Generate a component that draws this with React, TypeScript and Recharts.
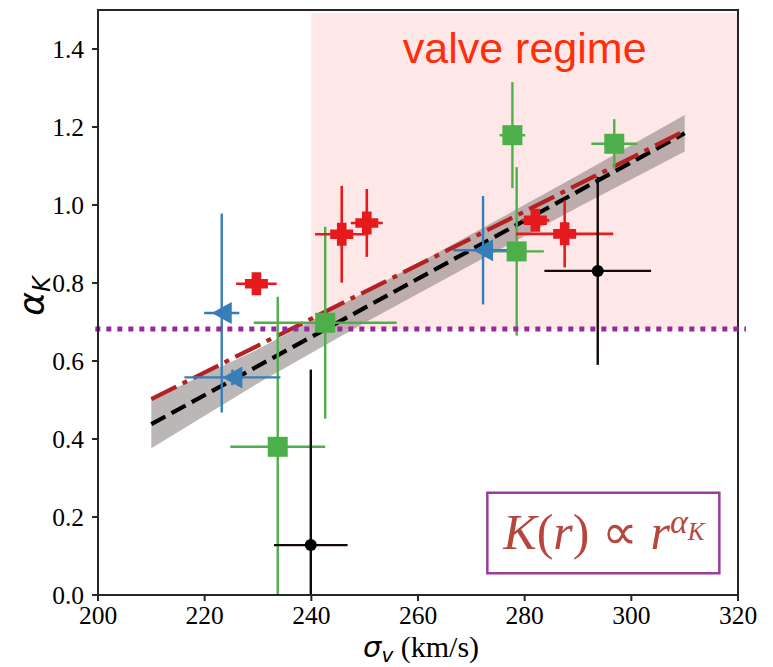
import React from 'react';
import {
  ComposedChart,
  XAxis,
  YAxis,
  Scatter,
  ErrorBar,
  Line,
  Area,
  ReferenceArea,
  ReferenceLine,
} from 'recharts';

// Axis ticks
const sigmaTicks = [200, 220, 240, 260, 280, 300, 320];
const alphaTicks = [0, 0.2, 0.4, 0.6, 0.8, 1.0, 1.2, 1.4];

// Red sample (plus markers)
const redSigma = [229.7, 245.7, 250.4, 282.0, 287.5];
const redAlpha = [0.798, 0.925, 0.954, 0.961, 0.926];
const redSigmaErr = [3.8, 5.0, 3.0, 2.6, 9.1];
const redAlphaErrLow = [0.02, 0.124, 0.087, 0.02, 0.086];
const redAlphaErrHigh = [0.02, 0.124, 0.087, 0.02, 0.086];

// Blue sample (left triangles)
const blueSigma = [223.2, 225.2, 272.2];
const blueAlpha = [0.723, 0.558, 0.884];
const blueSigmaErr = [3.3, 9.0, 5.6];
const blueAlphaErrLow = [0.255, 0.02, 0.139];
const blueAlphaErrHigh = [0.255, 0.02, 0.139];

// Green sample (squares)
const greenSigma = [233.7, 242.6, 277.7, 278.5, 296.8];
const greenAlpha = [0.38, 0.698, 1.179, 0.881, 1.157];
const greenSigmaErr = [8.9, 13.4, 2.4, 5.1, 4.3];
const greenAlphaErrLow = [0.38, 0.246, 0.136, 0.216, 0.063];
const greenAlphaErrHigh = [0.385, 0.246, 0.136, 0.216, 0.063];

// Black sample (circles)
const blackSigma = [239.9, 293.7];
const blackAlpha = [0.128, 0.831];
const blackSigmaErr = [6.9, 10.0];
const blackAlphaErrLow = [0.128, 0.241];
const blackAlphaErrHigh = [0.45, 0.241];

// Linear fits
const fitSigma = [210, 310];
const fitBlack = [0.438, 1.184];
const fitRed = [0.502, 1.19];

// Confidence band around the black fit
const bandSigma = [210, 230, 250, 270, 290, 310];
const bandLow = [0.376, 0.543, 0.698, 0.847, 0.994, 1.137];
const bandHigh = [0.502, 0.63, 0.776, 0.925, 1.076, 1.231];

// Valve regime threshold
const alphaThreshold = 0.682;
const valveSigmaMin = 240;

const makePoints = (
  xs: number[],
  ys: number[],
  exs: number[],
  eyLo: number[],
  eyHi: number[]
) => xs.map((x, i) => ({ x, y: ys[i], ex: exs[i], ey: [eyLo[i], eyHi[i]] }));

const redPts = makePoints(redSigma, redAlpha, redSigmaErr, redAlphaErrLow, redAlphaErrHigh);
const bluePts = makePoints(blueSigma, blueAlpha, blueSigmaErr, blueAlphaErrLow, blueAlphaErrHigh);
const greenPts = makePoints(greenSigma, greenAlpha, greenSigmaErr, greenAlphaErrLow, greenAlphaErrHigh);
const blackPts = makePoints(blackSigma, blackAlpha, blackSigmaErr, blackAlphaErrLow, blackAlphaErrHigh);

const blackFit = fitSigma.map((x, i) => ({ x, y: fitBlack[i] }));
const redFit = fitSigma.map((x, i) => ({ x, y: fitRed[i] }));
const band = bandSigma.map((x, i) => ({ x, range: [bandLow[i], bandHigh[i]] }));

const RED = '#e41a1c';
const BLUE = '#377eb8';
const GREEN = '#4daf4a';
const PURPLE = '#97289b';
const AXIS = '#262626';
const SERIF = 'Liberation Serif';
const SANS = 'DejaVu Sans';

const PlusShape = (p: any) => {
  const { cx, cy } = p;
  const s = 11.5;
  const t = 4.8;
  const a = s - t;
  const d = `M${cx - t},${cy - s}h${2 * t}v${a}h${a}v${2 * t}h${-a}v${a}h${-2 * t}v${-a}h${-a}v${-2 * t}h${a}z`;
  return <path d={d} fill={RED} />;
};

const TriangleShape = (p: any) => {
  const { cx, cy } = p;
  return (
    <polygon
      points={`${cx - 10},${cy} ${cx + 10},${cy - 11} ${cx + 10},${cy + 11}`}
      fill={BLUE}
    />
  );
};

const SquareShape = (p: any) => {
  const { cx, cy } = p;
  return <rect x={cx - 10} y={cy - 10} width={20} height={20} fill={GREEN} />;
};

const CircleShape = (p: any) => {
  const { cx, cy } = p;
  return <circle cx={cx} cy={cy} r={6} fill="#000" />;
};

const ValveLabel = (props: any) => {
  const vb = props.viewBox;
  return (
    <text
      x={vb.x + vb.width / 2}
      y={vb.y + 50}
      textAnchor="middle"
      fill="#ff2d0a"
      fontFamily="Liberation Sans"
      fontSize={43}
    >
      valve regime
    </text>
  );
};

const LawLabel = (props: any) => {
  const vb = props.viewBox;
  return (
    <text x={vb.x + 16} y={vb.y + 56.5} fill="#b5473f" fontFamily={SERIF} fontSize={50}>
      <tspan fontStyle="italic">K</tspan>
      <tspan>(</tspan>
      <tspan fontStyle="italic">r</tspan>
      <tspan>) ∝ </tspan>
      <tspan fontStyle="italic">r</tspan>
      <tspan fontStyle="italic" fontSize={34} dy={-16}>α</tspan>
      <tspan fontStyle="italic" fontSize={25} dy={7}>K</tspan>
    </text>
  );
};

const XLabel = () => (
  <text x={363} y={657} fill="#000" fontSize={30} fontFamily={SERIF}>
    <tspan fontFamily={SANS} fontStyle="italic" fontSize={29}>σ</tspan>
    <tspan fontFamily={SANS} fontStyle="italic" fontSize={20} dy={5}>v</tspan>
    <tspan fontFamily={SERIF} dy={-5}> (km/s)</tspan>
  </text>
);

const YLabel = () => (
  <text transform="translate(44, 296) rotate(-90)" textAnchor="middle" fill="#000" fontFamily={SANS}>
    <tspan fontStyle="italic" fontSize={36}>α</tspan>
    <tspan fontStyle="italic" fontSize={24} dy={6}>K</tspan>
  </text>
);

const tickStyle = { fill: '#000', fontSize: 25.5, fontFamily: SERIF };

export default function App() {
  return (
    <div style={{ position: 'absolute', left: 0, top: 0, width: 773, height: 667 }}>
      <ComposedChart
        width={773}
        height={667}
        margin={{ top: 10, right: 35, bottom: 0, left: 0 }}
      >
        <XAxis
          type="number"
          dataKey="x"
          domain={[200, 320]}
          ticks={sigmaTicks}
          allowDataOverflow
          height={72}
          tickSize={6}
          tickMargin={5}
          axisLine={{ stroke: AXIS, strokeWidth: 2 }}
          tickLine={{ stroke: AXIS, strokeWidth: 2 }}
          tick={tickStyle}
          label={{ content: XLabel }}
        />
        <YAxis
          type="number"
          dataKey="y"
          domain={[0, 1.5]}
          ticks={alphaTicks}
          allowDataOverflow
          width={98}
          tickSize={6}
          tickMargin={8}
          tickFormatter={(v: number) => v.toFixed(1)}
          axisLine={{ stroke: AXIS, strokeWidth: 2 }}
          tickLine={{ stroke: AXIS, strokeWidth: 2 }}
          tick={tickStyle}
          label={{ content: YLabel }}
        />

        <ReferenceArea
          x1={valveSigmaMin}
          x2={320}
          y1={alphaThreshold}
          y2={1.492}
          fill="#f50a00"
          fillOpacity={0.095}
          stroke="none"
          label={{ content: ValveLabel }}
        />
        <ReferenceArea
          x1={200}
          x2={320}
          y1={0}
          y2={1.5}
          fill="none"
          stroke={AXIS}
          strokeWidth={2}
        />

        <Area
          data={band}
          dataKey="range"
          type="linear"
          stroke="none"
          fill="#7a7070"
          fillOpacity={0.5}
          dot={false}
          activeDot={false}
          isAnimationActive={false}
        />
        <Line
          data={blackFit}
          dataKey="y"
          type="linear"
          stroke="#000"
          strokeWidth={4.2}
          strokeDasharray="16 7"
          dot={false}
          activeDot={false}
          isAnimationActive={false}
        />
        <Line
          data={redFit}
          dataKey="y"
          type="linear"
          stroke="#b22222"
          strokeWidth={4.2}
          strokeDasharray="28 7 5 7"
          dot={false}
          activeDot={false}
          isAnimationActive={false}
        />

        <Scatter data={greenPts} shape={SquareShape} isAnimationActive={false}>
          <ErrorBar dataKey="ex" direction="x" width={0} stroke={GREEN} strokeWidth={2.4} />
          <ErrorBar dataKey="ey" direction="y" width={0} stroke={GREEN} strokeWidth={2.4} />
        </Scatter>
        <Scatter data={bluePts} shape={TriangleShape} isAnimationActive={false}>
          <ErrorBar dataKey="ex" direction="x" width={0} stroke={BLUE} strokeWidth={2.4} />
          <ErrorBar dataKey="ey" direction="y" width={0} stroke={BLUE} strokeWidth={2.4} />
        </Scatter>
        <Scatter data={redPts} shape={PlusShape} isAnimationActive={false}>
          <ErrorBar dataKey="ex" direction="x" width={0} stroke={RED} strokeWidth={2.6} />
          <ErrorBar dataKey="ey" direction="y" width={0} stroke={RED} strokeWidth={2.6} />
        </Scatter>
        <Scatter data={blackPts} shape={CircleShape} isAnimationActive={false}>
          <ErrorBar dataKey="ex" direction="x" width={0} stroke="#140808" strokeWidth={2.4} />
          <ErrorBar dataKey="ey" direction="y" width={0} stroke="#140808" strokeWidth={2.4} />
        </Scatter>

        <ReferenceLine
          segment={[
            { x: 199.5, y: alphaThreshold },
            { x: 321.5, y: alphaThreshold },
          ]}
          ifOverflow="visible"
          stroke={PURPLE}
          strokeWidth={5}
          strokeDasharray="5 6"
        />

        <ReferenceArea
          x1={273}
          x2={316.5}
          y1={0.056}
          y2={0.262}
          fill="#ffffff"
          fillOpacity={1}
          stroke="#9b3c9b"
          strokeWidth={2.5}
          label={{ content: LawLabel }}
        />
      </ComposedChart>
    </div>
  );
}
